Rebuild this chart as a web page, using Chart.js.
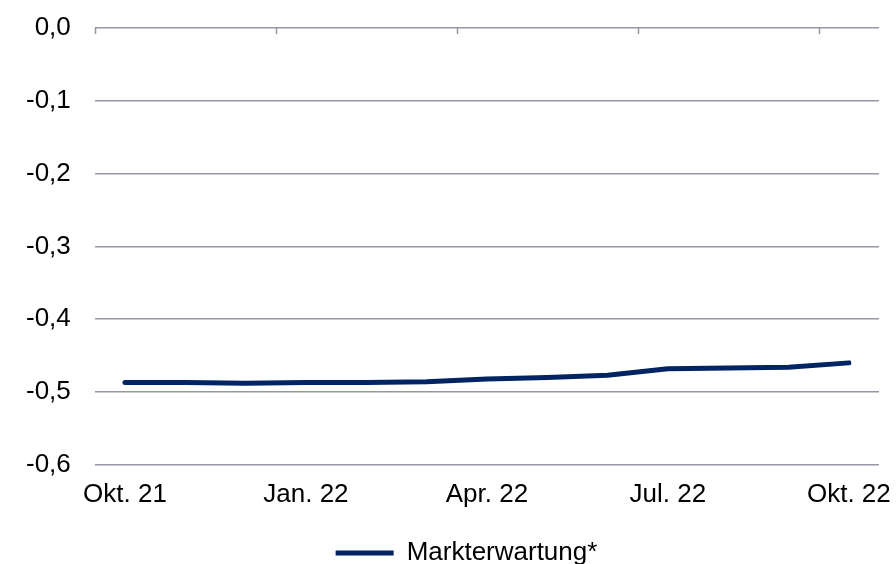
<!DOCTYPE html>
<html>
<head>
<meta charset="utf-8">
<script src="https://cdn.jsdelivr.net/npm/chart.js@4"></script>
<style>
  html, body { margin: 0; padding: 0; background: #fff; }
  #wrap { width: 896px; height: 564px; }
</style>
</head>
<body>
<div id="wrap"><canvas id="myChart"></canvas></div>
<script>
// Monatswerte Okt. 21 bis Okt. 22
const monate = ["Okt. 21", "Nov. 21", "Dez. 21", "Jan. 22", "Feb. 22", "Mrz. 22", "Apr. 22",
  "Mai. 22", "Jun. 22", "Jul. 22", "Aug. 22", "Sep. 22", "Okt. 22"];
const markterwartung = [-0.487, -0.487, -0.488, -0.487, -0.487, -0.486, -0.482,
  -0.480, -0.477, -0.468, -0.467, -0.466, -0.460];
const yTicks = [0, -0.1, -0.2, -0.3, -0.4, -0.5, -0.6];

const grau = "#9597a4";
const navy = "#022463";
const schrift = { family: "'Liberation Sans', Arial, sans-serif", size: 26 };

// kleine Striche an der Nulllinie, jeweils zu Quartalsbeginn
const quartalsStriche = {
  id: "quartalsStriche",
  afterLayout(chart) {
    // Legende etwas nach rechts, unter die Mitte der Zeichenfläche
    chart.legend.left += 26;
    chart.legend.right += 26;
  },
  afterDraw(chart) {
    const xs = chart.scales.x;
    const top = chart.chartArea.top;
    const step = xs.getPixelForValue(1) - xs.getPixelForValue(0);
    const c = chart.ctx;
    c.save();
    c.strokeStyle = grau;
    c.lineWidth = 1.5;
    for (let i = 0; i < monate.length; i += 3) {
      const x = Math.round(xs.getPixelForValue(i) - step / 2) + 0.5;
      c.beginPath();
      c.moveTo(x, top);
      c.lineTo(x, top + 6);
      c.stroke();
    }
    c.restore();
  }
};

const ctx = document.getElementById("myChart");
new Chart(ctx, {
  type: "line",
  data: {
    labels: monate,
    datasets: [{
      label: "Markterwartung*",
      data: markterwartung,
      borderColor: navy,
      backgroundColor: navy,
      borderWidth: 5,
      borderCapStyle: "round",
      borderJoinStyle: "round",
      pointRadius: 0,
      tension: 0,
      fill: false
    }]
  },
  options: {
    responsive: true,
    maintainAspectRatio: false,
    animation: false,
    layout: { padding: { left: 2, right: 17, top: 28, bottom: -12 } },
    plugins: {
      legend: {
        position: "bottom",
        labels: {
          color: "#000",
          font: schrift,
          usePointStyle: true,
          pointStyle: "line",
          pointStyleWidth: 58,
          padding: 16
        }
      },
      tooltip: { enabled: false },
      title: { display: false }
    },
    scales: {
      x: {
        offset: true,
        border: { display: false },
        grid: { display: false, drawTicks: false },
        afterFit: (s) => { s.paddingLeft = 0; s.paddingRight = 0; },
        ticks: {
          autoSkip: false,
          maxRotation: 0,
          padding: 14,
          color: "#000",
          font: schrift,
          callback: (v, i) => (i % 3 === 0 ? monate[i] : "")
        }
      },
      y: {
        min: -0.6,
        max: 0,
        border: { display: false },
        grid: { color: grau, lineWidth: 1.5, drawTicks: false },
        afterBuildTicks: (axis) => { axis.ticks = yTicks.map(v => ({ value: v })); },
        afterFit: (s) => { s.paddingTop = 0; s.paddingBottom = 0; },
        ticks: {
          padding: 24,
          color: "#000",
          font: schrift,
          callback: (v) => v.toFixed(1).replace(".", ",").replace("-0,0", "0,0")
        }
      }
    }
  },
  plugins: [quartalsStriche]
});
</script>
</body>
</html>
